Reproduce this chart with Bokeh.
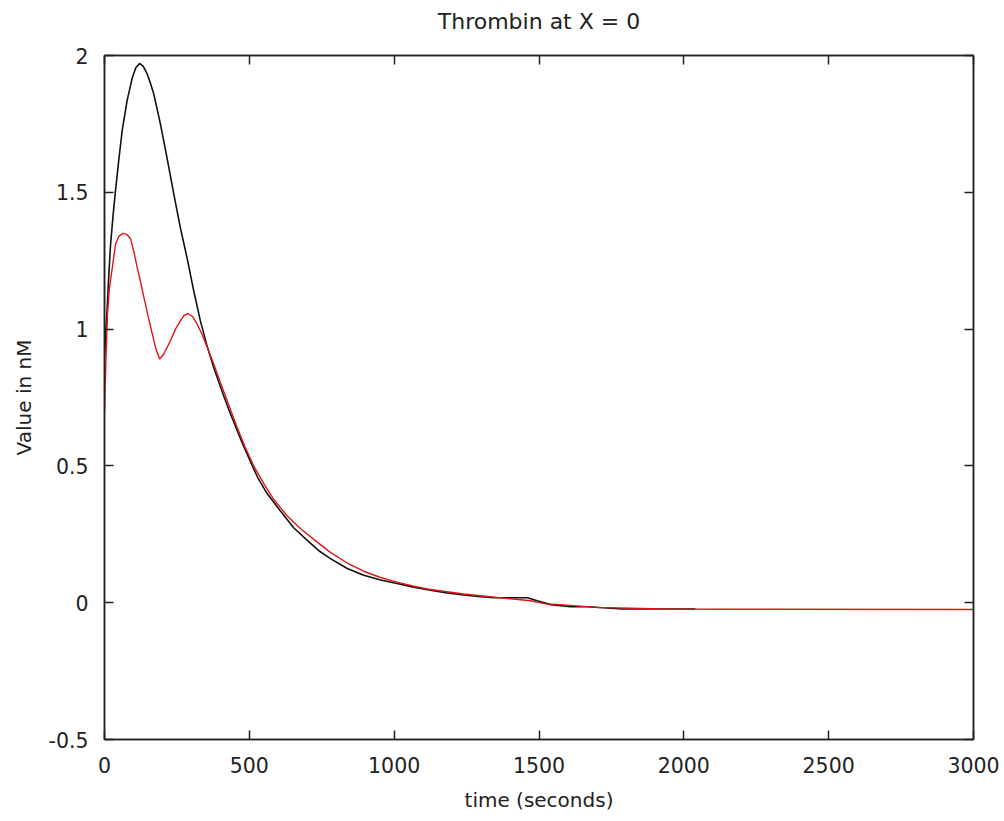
from bokeh.plotting import figure
from bokeh.models import Range1d, LinearAxis, FixedTicker, CustomJSTickFormatter
from bokeh.embed import file_html
from bokeh.resources import INLINE

# ---- data ----
time_black = [0, 5, 9, 15, 21, 30, 38, 49, 61, 78, 96, 108, 121, 134, 147, 158,
              170, 193, 216, 239, 262, 285, 308, 331, 355, 377, 410, 435, 475,
              504, 530, 562, 600, 653, 700, 740, 780, 838, 895, 953, 1010, 1067,
              1125, 1183, 1240, 1298, 1345, 1460, 1494, 1528, 1540, 1609, 1667,
              1788, 2040]
thrombin_black = [0.90, 1.00, 1.07, 1.20, 1.31, 1.42, 1.506, 1.615, 1.725, 1.835,
                  1.919, 1.955, 1.971, 1.96, 1.933, 1.90, 1.86, 1.75, 1.625, 1.495,
                  1.37, 1.26, 1.14, 1.03, 0.935, 0.86, 0.76, 0.69, 0.585, 0.515,
                  0.455, 0.398, 0.345, 0.274, 0.228, 0.19, 0.161, 0.125, 0.10,
                  0.083, 0.07, 0.057, 0.046, 0.036, 0.028, 0.022, 0.018, 0.018,
                  0.007, -0.003, -0.007, -0.015, -0.015, -0.023, -0.023]

time_red = [0, 4, 10, 17, 27, 38, 50, 64, 78, 90, 102, 113, 125, 136, 150, 165,
            178, 191, 205, 228, 245, 262, 275, 288, 305, 320, 337, 355, 378, 400,
            430, 458, 485, 515, 550, 584, 630, 677, 730, 780, 838, 895, 953, 1010,
            1067, 1125, 1240, 1356, 1471, 1528, 1585, 1700, 1930, 2161, 3000]
thrombin_red = [0.70, 0.85, 1.05, 1.15, 1.225, 1.31, 1.34, 1.35, 1.345, 1.33,
                1.28, 1.225, 1.17, 1.116, 1.05, 0.982, 0.925, 0.89, 0.91, 0.958,
                1.0, 1.03, 1.05, 1.057, 1.045, 1.018, 0.98, 0.933, 0.87, 0.805,
                0.72, 0.64, 0.57, 0.50, 0.435, 0.378, 0.318, 0.27, 0.225, 0.184,
                0.145, 0.115, 0.092, 0.075, 0.06, 0.048, 0.032, 0.019, 0.007,
                -0.005, -0.008, -0.017, -0.023, -0.024, -0.025]

x_ticks = [0, 500, 1000, 1500, 2000, 2500, 3000]
y_ticks = [-0.5, 0, 0.5, 1, 1.5, 2]
title_text = "Thrombin at X = 0"

FONT = "DejaVu Sans"
TXT = "#222222"

p = figure(frame_width=869, frame_height=684,
           x_range=Range1d(0, 3000), y_range=Range1d(-0.5, 2),
           output_backend="svg", toolbar_location=None,
           min_border_left=104, min_border_right=27,
           min_border_top=55, min_border_bottom=78)
p.background_fill_color = "white"
p.border_fill_color = "white"
p.xgrid.visible = False
p.ygrid.visible = False
p.outline_line_color = "#222222"
p.outline_line_width = 1.5

yfmt = CustomJSTickFormatter(code="return tick.toString();")
blank = CustomJSTickFormatter(code="return '';")

def style_axis(ax, labels=True):
    ax.axis_line_color = "#222222"
    ax.axis_line_width = 1.5
    ax.major_tick_in = 9
    ax.major_tick_out = 0
    ax.minor_tick_in = 0
    ax.minor_tick_out = 0
    ax.major_tick_line_color = "#222222"
    ax.major_tick_line_width = 1.5
    ax.major_label_text_font = FONT
    ax.major_label_text_color = TXT
    ax.major_label_text_font_size = "20.5px"
    if not labels:
        ax.formatter = blank
        ax.major_label_standoff = 0

xa = p.xaxis[0]
xa.ticker = FixedTicker(ticks=x_ticks)
style_axis(xa)
xa.major_label_standoff = 17
xa.axis_label = "time (seconds)"
xa.axis_label_text_font = FONT
xa.axis_label_text_font_size = "20px"
xa.axis_label_text_font_style = "normal"
xa.axis_label_text_color = TXT
xa.axis_label_standoff = 12

ya = p.yaxis[0]
ya.ticker = FixedTicker(ticks=y_ticks)
ya.formatter = yfmt
style_axis(ya)
ya.major_label_standoff = 16
ya.axis_label = "Value in nM"
ya.axis_label_text_font = FONT
ya.axis_label_text_font_size = "20px"
ya.axis_label_text_font_style = "normal"
ya.axis_label_text_color = TXT
ya.axis_label_standoff = 10

# top axis: ticks only, carries the chart title as its label
top = LinearAxis(ticker=FixedTicker(ticks=x_ticks))
style_axis(top, labels=False)
top.axis_label = title_text
top.axis_label_text_font = FONT
top.axis_label_text_font_size = "22px"
top.axis_label_text_font_style = "normal"
top.axis_label_text_color = TXT
top.axis_label_standoff = 22
p.add_layout(top, "above")

right = LinearAxis(ticker=FixedTicker(ticks=y_ticks))
style_axis(right, labels=False)
p.add_layout(right, "right")

p.line(time_black, thrombin_black, line_color="#111111", line_width=1.6)
p.line(time_red, thrombin_red, line_color="#e01515", line_width=1.4)

open("out.html", "w").write(file_html(p, INLINE))
